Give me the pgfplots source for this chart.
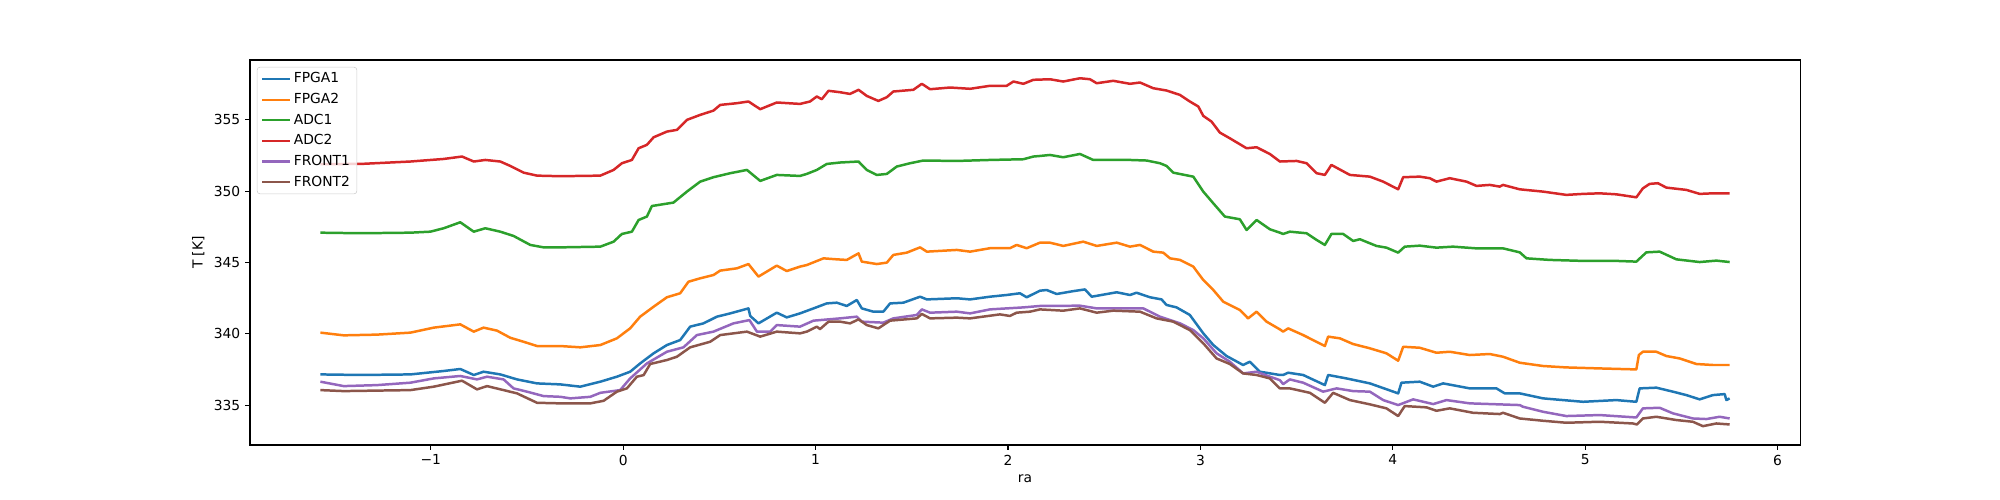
\documentclass[border=0pt]{standalone}
\usepackage{fontspec}
\setmainfont{DejaVu Sans}
\usepackage{pgfplots}
\pgfplotsset{compat=1.18}

\definecolor{c0}{HTML}{1F77B4}
\definecolor{c1}{HTML}{FF7F0E}
\definecolor{c2}{HTML}{2CA02C}
\definecolor{c3}{HTML}{D62728}
\definecolor{c4}{HTML}{9467BD}
\definecolor{c5}{HTML}{8C564B}

\begin{document}
\begin{tikzpicture}
\useasboundingbox (-2.5in,-0.55in) rectangle (17.5in,4.45in);
\begin{axis}[
    at={(0,0)}, anchor=south west,
    scale only axis, width=15.5in, height=3.85in,
    xmin=-1.94, xmax=6.117, ymin=332.2, ymax=359.2,
    axis line style={line width=0.8pt},
    tick align=outside, major tick length=3.5pt,
    every tick/.style={black, line width=0.8pt},
    xtick={-1,0,1,2,3,4,5,6},
    xticklabels={−1,0,1,2,3,4,5,6},
    ytick={335,340,345,350,355},
    xtick pos=bottom, ytick pos=left,
    /pgf/number format/assume math mode=true,
    tick label style={font=\fontsize{10}{12}\selectfont},
    label style={font=\fontsize{10}{12}\selectfont},
    xlabel={ra}, ylabel={T [K]},
    every axis plot/.append style={line width=1.8pt, line join=round},
    legend cell align=left,
    legend image code/.code={\draw[#1, line width=1.5pt] (0pt,0pt) -- (20pt,0pt);},
    legend style={at={(0,1)}, anchor=north west, xshift=5pt, yshift=-5pt,
        draw=black!20, rounded corners=2pt,
        fill=white, fill opacity=0.8, text opacity=1,
        font=\fontsize{10}{12}\selectfont, row sep=2pt,
        inner xsep=3pt, inner ysep=2pt},
]
\addplot[c0] coordinates {
(-1.574,337.15) (-1.366,337.11) (-1.106,337.15) (-0.933,337.39) (-0.847,337.53) (-0.777,337.11) (-0.726,337.34) (-0.639,337.15) (-0.552,336.80) (-0.448,336.52) (-0.327,336.45)
(-0.223,336.29) (-0.119,336.64) (-0.033,336.99) (0.036,337.34) (0.088,337.92) (0.158,338.63) (0.227,339.21) (0.296,339.56) (0.348,340.50) (0.417,340.73) (0.487,341.20) (0.556,341.43) (0.651,341.78) (0.660,341.25) (0.703,340.73) (0.798,341.48) (0.850,341.15) (0.919,341.43)
(0.989,341.78) (1.058,342.13) (1.110,342.18) (1.162,341.95) (1.214,342.37) (1.240,341.78) (1.300,341.55) (1.352,341.55) (1.387,342.13) (1.456,342.18) (1.543,342.60) (1.578,342.41) (1.734,342.49) (1.803,342.41) (1.906,342.60) (1.993,342.72) (2.062,342.84) (2.097,342.56) (2.166,343.02)
(2.201,343.07) (2.253,342.79) (2.339,342.99) (2.400,343.11) (2.435,342.60) (2.565,342.91) (2.634,342.72) (2.668,342.88) (2.738,342.56) (2.798,342.41) (2.824,342.02) (2.876,341.85) (2.945,341.32) (3.015,340.03) (3.067,339.21) (3.136,338.44) (3.222,337.81) (3.257,338.04) (3.309,337.34) (3.413,337.11)
(3.430,337.11) (3.456,337.27) (3.534,337.11) (3.647,336.40) (3.664,337.11) (3.759,336.87) (3.881,336.52) (4.028,335.82) (4.045,336.57) (4.140,336.64) (4.210,336.29) (4.262,336.52) (4.400,336.17) (4.539,336.17) (4.582,335.82) (4.660,335.82)
(4.781,335.47) (4.989,335.23) (5.162,335.35) (5.266,335.23) (5.283,336.17) (5.370,336.22) (5.456,335.94) (5.526,335.70) (5.595,335.40) (5.664,335.70) (5.725,335.77) (5.734,335.35) (5.751,335.47)
};
\addlegendentry{FPGA1}
\addplot[c1] coordinates {
(-1.574,340.08) (-1.453,339.89) (-1.280,339.94) (-1.106,340.08) (-0.985,340.43) (-0.847,340.66) (-0.777,340.15) (-0.726,340.43) (-0.656,340.22) (-0.587,339.72) (-0.518,339.44) (-0.448,339.14) (-0.327,339.14)
(-0.223,339.05) (-0.119,339.21) (-0.033,339.68) (0.036,340.38) (0.088,341.20) (0.158,341.90) (0.227,342.56) (0.296,342.84) (0.339,343.65) (0.400,343.89) (0.469,344.12) (0.504,344.43) (0.591,344.59) (0.651,344.89) (0.703,344.01) (0.798,344.78) (0.850,344.40) (0.919,344.71)
(0.954,344.82) (1.041,345.29) (1.110,345.22) (1.162,345.18) (1.223,345.64) (1.240,345.06) (1.318,344.89) (1.370,344.99) (1.404,345.53) (1.474,345.69) (1.543,346.06) (1.578,345.76) (1.734,345.88) (1.803,345.76) (1.906,346.00) (2.010,346.00) (2.045,346.23) (2.097,346.00) (2.166,346.39)
(2.218,346.39) (2.287,346.16) (2.391,346.46) (2.461,346.16) (2.565,346.39) (2.634,346.11) (2.686,346.23) (2.755,345.76) (2.807,345.69) (2.842,345.29) (2.894,345.18) (2.963,344.71) (3.015,343.77) (3.067,343.07) (3.119,342.25) (3.205,341.67) (3.248,341.08) (3.292,341.55) (3.344,340.85) (3.413,340.31)
(3.430,340.15) (3.456,340.38) (3.534,339.91) (3.647,339.14) (3.664,339.80) (3.725,339.68) (3.794,339.28) (3.881,338.98) (3.967,338.63) (4.028,338.11) (4.054,339.09) (4.140,339.02) (4.227,338.67) (4.296,338.74) (4.400,338.51) (4.504,338.58) (4.573,338.39) (4.660,337.97)
(4.781,337.74) (4.902,337.64) (5.075,337.57) (5.266,337.50) (5.279,338.51) (5.300,338.74) (5.370,338.74) (5.422,338.44) (5.491,338.27) (5.578,337.88) (5.664,337.81) (5.751,337.81)
};
\addlegendentry{FPGA2}
\addplot[c2] coordinates {
(-1.574,347.09) (-1.366,347.05) (-1.106,347.09) (-1.003,347.16) (-0.933,347.40) (-0.847,347.82) (-0.777,347.16) (-0.717,347.40) (-0.639,347.16) (-0.570,346.86) (-0.483,346.23) (-0.414,346.06) (-0.327,346.06)
(-0.119,346.11) (-0.050,346.46) (-0.007,347.00) (0.045,347.16) (0.080,347.98) (0.123,348.22) (0.149,348.96) (0.261,349.20) (0.331,349.97) (0.400,350.67) (0.469,350.98) (0.556,351.26) (0.643,351.49) (0.712,350.72) (0.798,351.14) (0.919,351.07)
(0.954,351.21) (1.006,351.49) (1.058,351.91) (1.127,352.01) (1.223,352.08) (1.266,351.49) (1.318,351.14) (1.370,351.21) (1.422,351.73) (1.491,351.96) (1.560,352.15) (1.734,352.12) (1.906,352.19) (2.080,352.24) (2.132,352.43) (2.166,352.47)
(2.218,352.54) (2.287,352.38) (2.374,352.61) (2.443,352.19) (2.634,352.19) (2.720,352.15) (2.790,351.96) (2.824,351.77) (2.859,351.30) (2.963,351.02) (3.015,349.97) (3.067,349.15) (3.127,348.22) (3.205,348.03) (3.240,347.28) (3.292,347.98) (3.361,347.33) (3.413,347.09)
(3.430,347.00) (3.465,347.16) (3.552,347.05) (3.604,346.58) (3.647,346.23) (3.681,347.00) (3.742,347.00) (3.794,346.51) (3.829,346.63) (3.915,346.16) (3.967,346.04) (4.028,345.69) (4.062,346.11) (4.140,346.18) (4.227,346.04) (4.313,346.11) (4.435,345.99) (4.573,345.99) (4.660,345.71)
(4.695,345.29) (4.816,345.18) (4.989,345.11) (5.162,345.11) (5.266,345.06) (5.318,345.71) (5.387,345.76) (5.474,345.22) (5.595,345.03) (5.682,345.13) (5.751,345.03)
};
\addlegendentry{ADC1}
\addplot[c3] coordinates {
(-1.574,351.90) (-1.366,351.91) (-1.106,352.08) (-0.933,352.26) (-0.838,352.43) (-0.777,352.08) (-0.717,352.19) (-0.639,352.08) (-0.587,351.77) (-0.518,351.30) (-0.448,351.09) (-0.327,351.05)
(-0.119,351.09) (-0.050,351.49) (-0.007,351.96) (0.045,352.19) (0.080,353.01) (0.123,353.25) (0.158,353.78) (0.227,354.18) (0.279,354.30) (0.331,355.00) (0.400,355.35) (0.469,355.65) (0.504,356.05) (0.591,356.17) (0.651,356.29) (0.712,355.75) (0.798,356.22) (0.919,356.12)
(0.971,356.29) (1.006,356.64) (1.032,356.45) (1.067,357.04) (1.127,356.94) (1.179,356.82) (1.223,357.11) (1.266,356.68) (1.326,356.33) (1.370,356.59) (1.404,356.99) (1.508,357.11) (1.552,357.53) (1.595,357.15) (1.699,357.27) (1.803,357.18) (1.906,357.39) (1.993,357.39) (2.028,357.69) (2.080,357.53) (2.132,357.81)
(2.218,357.85) (2.287,357.69) (2.374,357.92) (2.426,357.85) (2.461,357.57) (2.547,357.74) (2.634,357.53) (2.686,357.62) (2.755,357.22) (2.824,357.06) (2.894,356.75) (2.945,356.29) (2.989,355.94) (3.015,355.28) (3.058,354.88) (3.101,354.11) (3.153,353.71) (3.240,353.01) (3.292,353.08) (3.361,352.61) (3.413,352.08)
(3.500,352.12) (3.552,351.96) (3.604,351.26) (3.647,351.14) (3.681,351.84) (3.777,351.14) (3.881,351.02) (3.950,350.67) (4.028,350.13) (4.054,350.98) (4.140,351.02) (4.192,350.91) (4.227,350.67) (4.296,350.91) (4.383,350.67) (4.435,350.37) (4.504,350.44) (4.556,350.32) (4.573,350.44) (4.660,350.13)
(4.781,349.97) (4.902,349.74) (4.989,349.81) (5.075,349.85) (5.162,349.78) (5.266,349.57) (5.300,350.20) (5.335,350.51) (5.378,350.56) (5.422,350.25) (5.526,350.09) (5.595,349.81) (5.664,349.85) (5.751,349.85)
};
\addlegendentry{ADC2}
\addplot[c4] coordinates {
(-1.574,336.64) (-1.453,336.33) (-1.280,336.40) (-1.106,336.57) (-0.985,336.87) (-0.847,337.04) (-0.760,336.80) (-0.708,336.99) (-0.622,336.80) (-0.570,336.17) (-0.500,335.94) (-0.414,335.63) (-0.327,335.58)
(-0.275,335.47) (-0.171,335.58) (-0.119,335.86) (-0.016,336.05) (0.036,336.87) (0.123,337.92) (0.227,338.74) (0.313,339.05) (0.383,339.91) (0.469,340.15) (0.573,340.73) (0.656,340.96) (0.695,340.15) (0.764,340.15) (0.798,340.61) (0.919,340.50)
(0.989,340.92) (1.127,341.08) (1.214,341.20) (1.240,340.85) (1.352,340.78) (1.404,341.08) (1.526,341.32) (1.552,341.71) (1.595,341.48) (1.734,341.55) (1.803,341.43) (1.906,341.71) (2.080,341.85) (2.166,341.95)
(2.374,341.97) (2.461,341.78) (2.703,341.78) (2.790,341.20) (2.894,340.73) (2.963,340.26) (3.015,339.68) (3.084,338.63) (3.153,338.04) (3.222,337.22) (3.292,337.34) (3.361,336.99) (3.413,336.75)
(3.430,336.47) (3.465,336.80) (3.534,336.57) (3.638,335.94) (3.708,336.17) (3.794,335.98) (3.881,335.94) (3.950,335.35) (4.028,335.00) (4.106,335.40) (4.210,335.07) (4.279,335.35) (4.400,335.12) (4.660,335.00)
(4.677,334.88) (4.781,334.53) (4.902,334.23) (5.075,334.30) (5.266,334.13) (5.300,334.77) (5.387,334.81) (5.456,334.42) (5.560,334.06) (5.630,334.02) (5.699,334.18) (5.751,334.06)
};
\addlegendentry{FRONT1}
\addplot[c5] coordinates {
(-1.574,336.05) (-1.453,335.98) (-1.106,336.05) (-0.985,336.29) (-0.838,336.71) (-0.760,336.10) (-0.708,336.33) (-0.622,336.05) (-0.552,335.82) (-0.448,335.16) (-0.327,335.12)
(-0.171,335.12) (-0.102,335.30) (-0.033,335.94) (0.019,336.17) (0.071,336.99) (0.106,337.10) (0.140,337.88) (0.227,338.16) (0.279,338.39) (0.348,339.05) (0.452,339.44) (0.504,339.91) (0.643,340.15) (0.712,339.80) (0.798,340.15) (0.919,340.03)
(0.954,340.15) (1.006,340.50) (1.023,340.33) (1.067,340.85) (1.127,340.85) (1.179,340.73) (1.223,341.01) (1.266,340.61) (1.326,340.38) (1.387,340.92) (1.526,341.08) (1.552,341.39) (1.595,341.08) (1.734,341.13) (1.803,341.08) (1.958,341.36) (2.010,341.25) (2.045,341.48) (2.114,341.55) (2.166,341.71)
(2.287,341.62) (2.374,341.78) (2.461,341.48) (2.547,341.62) (2.686,341.55) (2.772,341.08) (2.859,340.85) (2.945,340.26) (3.015,339.33) (3.084,338.27) (3.153,337.88) (3.222,337.22) (3.292,337.11) (3.361,336.87) (3.413,336.17)
(3.465,336.17) (3.569,335.86) (3.647,335.16) (3.690,335.86) (3.777,335.35) (3.881,335.05) (3.967,334.77) (4.028,334.23) (4.062,334.93) (4.175,334.84) (4.227,334.60) (4.296,334.77) (4.417,334.46) (4.556,334.37) (4.573,334.46) (4.660,334.06)
(4.781,333.90) (4.902,333.76) (5.075,333.83) (5.248,333.71) (5.269,333.64) (5.300,334.06) (5.370,334.18) (5.474,333.95) (5.560,333.83) (5.612,333.52) (5.682,333.71) (5.751,333.64)
};
\addlegendentry{FRONT2}
\end{axis}
\end{tikzpicture}
\end{document}
